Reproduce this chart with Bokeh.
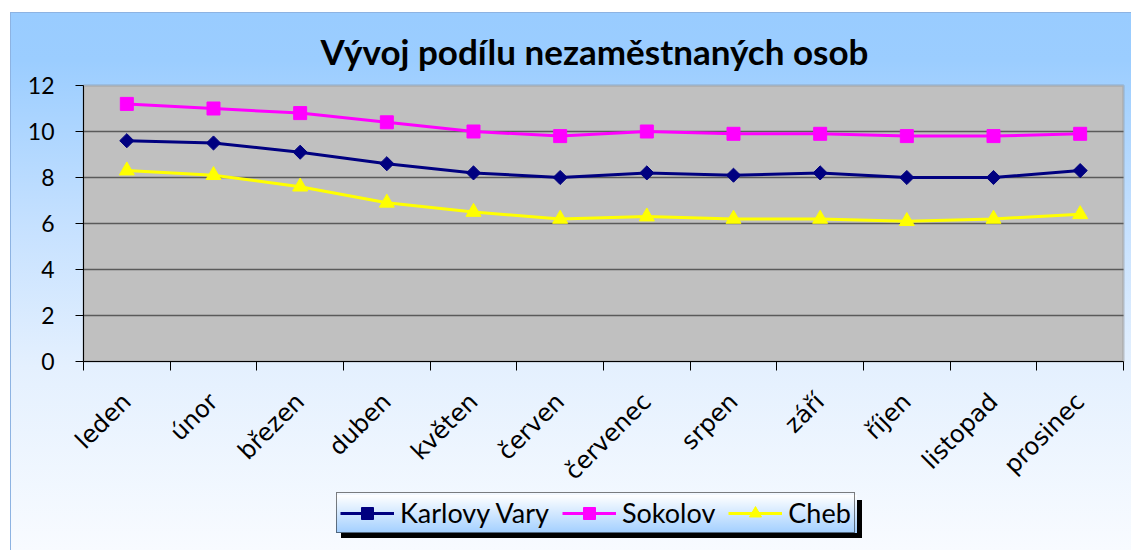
import math
from bokeh.plotting import figure
from bokeh.models import FixedTicker, Legend, LegendItem, BoxAnnotation, Label
from bokeh.embed import file_html
from bokeh.resources import INLINE

# ---- data ----
months = ["leden", "únor", "březen", "duben", "květen", "červen",
          "červenec", "srpen", "září", "říjen", "listopad", "prosinec"]
karlovy_vary = [9.6, 9.5, 9.1, 8.6, 8.2, 8.0, 8.2, 8.1, 8.2, 8.0, 8.0, 8.3]
sokolov = [11.2, 11.0, 10.8, 10.4, 10.0, 9.8, 10.0, 9.9, 9.9, 9.8, 9.8, 9.9]
cheb = [8.3, 8.1, 7.6, 6.9, 6.5, 6.2, 6.3, 6.2, 6.2, 6.1, 6.2, 6.4]
series_names = ["Karlovy Vary", "Sokolov", "Cheb"]
y_ticks = [0, 2, 4, 6, 8, 10, 12]
chart_title = "Vývoj podílu nezaměstnaných osob"

xs = list(range(1, len(months) + 1))

# ---- layout geometry (pixels, relative to the figure's top-left) ----
W, H = 1121, 538                  # figure size; placed at page (10, 12)
plot_l, plot_r = 73, 1113         # grey plot area, horizontal
plot_t, plot_b = 73, 349          # grey plot area, vertical
x0, x1 = 0.5, len(months) + 0.5
y0, y1 = y_ticks[0], y_ticks[-1]
ppx = (plot_r - plot_l) / (x1 - x0)
ppy = (plot_b - plot_t) / (y1 - y0)
x_lo, x_hi = x0 - plot_l / ppx, x1 + (W - plot_r) / ppx
y_lo, y_hi = y0 - (H - plot_b) / ppy, y1 + plot_t / ppy

p = figure(width=W, height=H, x_range=(x_lo, x_hi), y_range=(y_lo, y_hi),
           output_backend="svg", toolbar_location=None,
           min_border=0, background_fill_alpha=0, border_fill_alpha=0)
p.margin = (12, 0, 0, 10)
p.styles = {
    "background": ("linear-gradient(to bottom, #FFFFFF, #A2CFFF) 326px 483px / 521px 38px no-repeat, "
                   "linear-gradient(#000000, #000000) 331px 488px / 521px 38px no-repeat, "
                   "linear-gradient(to bottom, #99CCFF 0%, #9BCDFF 9%, #C6E1FF 40%, "
                   "#E4F0FE 66%, #F8FBFF 100%)"),
    "box-shadow": "inset 1px 1px 0 #8DB3E2",
}
p.outline_line_color = None
p.xgrid.visible = False
p.ygrid.visible = False

# grey plot area
p.add_layout(BoxAnnotation(left=x0, right=x1, bottom=y0, top=y1,
                           fill_color="#C0C0C0", fill_alpha=1.0,
                           line_color="#808080", line_width=2.5, level="image"))

# horizontal gridlines inside the plot area
g_ticks = y_ticks[1:-1]
p.segment(x0=[x0] * len(g_ticks), x1=[x1] * len(g_ticks), y0=g_ticks, y1=g_ticks,
          line_color="#5A5A5A", line_width=1.5)

# title
p.add_layout(Label(x=x0 + (584 - plot_l) / ppx, y=y1 + (plot_t - 38) / ppy,
                   text=chart_title, text_align="center", text_baseline="alphabetic",
                   text_font="Lato", text_font_style="bold", text_font_size="35px",
                   text_color="black"))

# x axis (drawn at y = 0)
xax = p.xaxis[0]
xax.fixed_location = y0
xax.bounds = (x0, x1)
xax.ticker = FixedTicker(ticks=xs, minor_ticks=[x - 0.5 for x in xs] + [xs[-1] + 0.5])
xax.major_label_overrides = {x: m for x, m in zip(xs, months)}
xax.major_tick_out = 0
xax.major_tick_in = 0
xax.minor_tick_out = 9
xax.minor_tick_in = 0
xax.minor_tick_line_color = "black"
xax.axis_line_color = "black"
xax.major_label_orientation = math.pi / 4
xax.major_label_text_font = "DejaVu Sans"
xax.major_label_text_font_size = "24px"
xax.major_label_text_color = "black"
xax.major_label_standoff = 27

# y axis (drawn at x = 0.5)
yax = p.yaxis[0]
yax.fixed_location = x0
yax.bounds = (y0, y1)
yax.ticker = FixedTicker(ticks=y_ticks)
yax.major_tick_out = 8
yax.major_tick_in = 0
yax.minor_tick_out = 0
yax.axis_line_color = "black"
yax.major_tick_line_color = "black"
yax.major_label_text_font = "Lato"
yax.major_label_text_font_size = "23px"
yax.major_label_text_color = "black"
yax.major_label_standoff = 21

# series
series_values = [karlovy_vary, sokolov, cheb]
colors = ["#000080", "#FF00FF", "#FFFF00"]
markers = ["square", "square", "triangle"]
angles = [math.pi / 4, 0, 0]
sizes = [10, 13, 15]

items = []
for name, vals, c, m, a, s in zip(series_names, series_values, colors, markers, angles, sizes):
    lr = p.line(xs, vals, line_color=c, line_width=3)
    sr = p.scatter(xs, vals, marker=m, size=s, angle=a, fill_color=c, line_color=c)
    items.append(LegendItem(label=name, renderers=[lr, sr]))

legend = Legend(items=items, orientation="horizontal", location=(326, 17))
legend.border_line_color = "black"
legend.border_line_width = 1.5
legend.background_fill_alpha = 0
legend.label_text_font = "Lato"
legend.label_text_font_size = "27px"
legend.label_text_color = "black"
legend.glyph_width = 54
legend.glyph_height = 30
legend.label_standoff = 6
legend.spacing = 13
legend.padding = 3
legend.margin = 0
p.add_layout(legend, "center")

open("out.html", "w").write(file_html(p, INLINE))
